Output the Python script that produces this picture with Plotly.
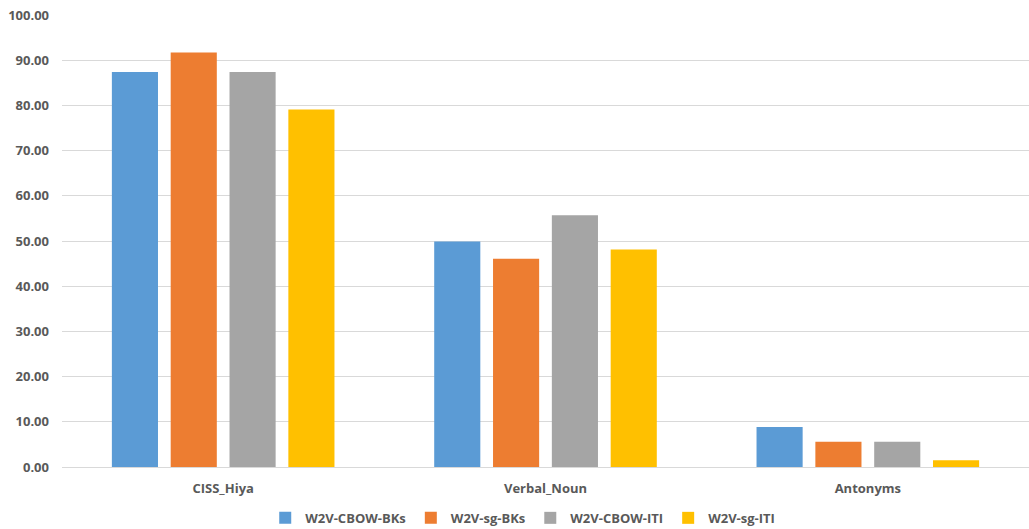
import plotly.graph_objects as go

categories = ["CISS_Hiya", "Verbal_Noun", "Antonyms"]
series_names = ["W2V-CBOW-BKs", "W2V-sg-BKs", "W2V-CBOW-ITI", "W2V-sg-ITI"]
cbow_bks = [87.4, 49.9, 8.85]
sg_bks = [91.7, 46.1, 5.6]
cbow_iti = [87.4, 55.7, 5.6]
sg_iti = [79.1, 48.1, 1.5]
tick_vals = [0, 10, 20, 30, 40, 50, 60, 70, 80, 90, 100]
tick_text = ["%.2f" % v for v in tick_vals]

colors = ["#5B9BD5", "#ED7D31", "#A5A5A5", "#FFC000"]
values = [cbow_bks, sg_bks, cbow_iti, sg_iti]

font_family = "Open Sans, Liberation Sans, sans-serif"
text_color = "#595959"

fig = go.Figure()
for name, vals, col in zip(series_names, values, colors):
    fig.add_trace(go.Bar(
        x=categories, y=vals, name=name,
        marker=dict(color=col, line=dict(width=0)),
    ))

fig.update_layout(
    width=1029, height=529,
    margin=dict(l=62, r=0, t=15, b=62),
    paper_bgcolor="white", plot_bgcolor="white",
    barmode="group", bargap=0.27, bargroupgap=0.216,
    font=dict(family=font_family, color=text_color, size=13),
    showlegend=True,
    legend=dict(
        orientation="h", xref="container", yref="container",
        x=0.508, xanchor="center", y=0.021, yanchor="middle",
        font=dict(size=13, color=text_color, family=font_family, weight="bold"),
        itemwidth=30, traceorder="normal",
    ),
    xaxis=dict(
        range=[-0.5, 2.5], showgrid=False, showline=False, zeroline=False,
        ticks="", ticklabelstandoff=12,
        tickfont=dict(size=13, color=text_color, weight="bold"),
    ),
    yaxis=dict(
        range=[0, 100], tickvals=tick_vals, ticktext=tick_text,
        showgrid=True, gridcolor="#D9D9D9", gridwidth=1,
        zeroline=True, zerolinecolor="#D9D9D9", zerolinewidth=1,
        showline=False, ticks="", ticklabelstandoff=12,
        tickfont=dict(size=13, color=text_color, weight="bold"),
    ),
)

fig.write_html("out.html")
